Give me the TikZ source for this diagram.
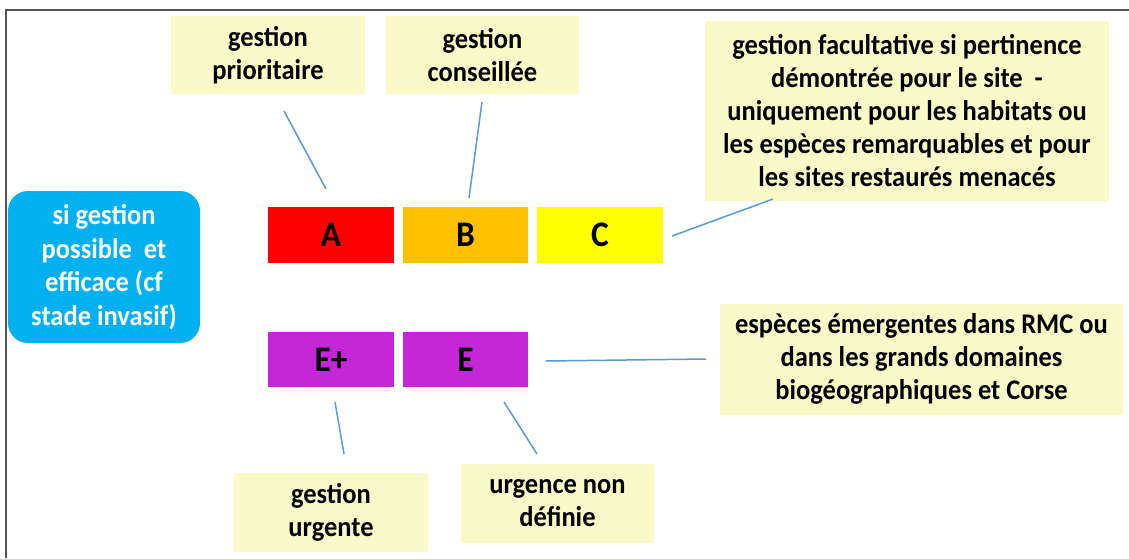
\documentclass[tikz,border=0pt]{standalone}
\usepackage{fontspec}
\setmainfont{Carlito}[FakeStretch=0.93]
\definecolor{paleY}{HTML}{FAFAC8}
\definecolor{redA}{HTML}{FF0000}
\definecolor{orB}{HTML}{FFC000}
\definecolor{yeC}{HTML}{FFFF00}
\definecolor{purE}{HTML}{C427D8}
\definecolor{cyanBox}{HTML}{00B0F0}
\definecolor{linkBlue}{HTML}{5B9BD5}
\definecolor{frameGray}{HTML}{555555}
\begin{document}
\begin{tikzpicture}[x=1pt,y=-1pt,
  note/.style={fill=paleY, draw=none, inner sep=0pt, align=center,
    font=\fontsize{28.5}{33}\selectfont\bfseries, text=black},
  grade/.style={draw=none, inner sep=0pt, minimum width=126pt, minimum height=56pt,
    font=\fontsize{36}{40}\selectfont\bfseries, text=black},
  link/.style={draw=linkBlue, line width=1.5pt}
]
\useasboundingbox (0,0) rectangle (1129,558);
% frame
\draw[frameGray, line width=2pt] (6,558) -- (6,10) -- (1129,10);

% top notes
\node[note, minimum width=194pt, minimum height=78pt] (prio) at (268,55) {gestion\\prioritaire};
\node[note, minimum width=193pt, minimum height=78pt] (cons) at (482.5,55) {gestion\\conseillée};
\node[note, minimum width=404pt, minimum height=180pt] (fac) at (907,111)
  {gestion facultative si pertinence\\démontrée pour le site\ \ -\\uniquement pour les habitats ou\\les espèces remarquables et pour\\les sites restaurés menacés};

% left box
\node[fill=cyanBox, rounded corners=20pt, minimum width=192pt, minimum height=152pt,
  inner sep=0pt, align=center, text=white, font=\fontsize{28.5}{33.5}\selectfont\bfseries] (cond) at (104,267)
  {si gestion\\possible\ \ et\\efficace (cf\\stade invasif)};

% grades
\node[grade, fill=redA] (A) at (331,235) {A};
\node[grade, fill=orB, minimum width=125pt] (B) at (465.5,235) {B};
\node[grade, fill=yeC] (C) at (600,235) {C};
\node[grade, fill=purE, minimum height=55pt] (Ep) at (331,359.5) {E+};
\node[grade, fill=purE, minimum width=125pt, minimum height=55pt] (E) at (465.5,359.5) {E};

% bottom / right notes
\node[note, minimum width=403pt, minimum height=111pt] (esp) at (921.5,359)
  {espèces émergentes dans RMC ou\\dans les grands domaines\\biogéographiques et Corse};
\node[note, minimum width=194pt, minimum height=79pt] (urg) at (331,512.5) {gestion\\urgente};
\node[note, minimum width=193pt, minimum height=79pt] (nondef) at (557.5,503) {urgence non\\définie};

% connector end points
\coordinate (prioEnd) at (284,111);
\coordinate (AEnd) at (326,189);
\coordinate (consEnd) at (482,102);
\coordinate (BEnd) at (469,198);
\coordinate (CEnd) at (672,236);
\coordinate (facEnd) at (773,199);
\coordinate (EEnd) at (546,361);
\coordinate (espEnd) at (706,359);
\coordinate (EpEnd) at (335,402);
\coordinate (urgEnd) at (344,454);
\coordinate (EdEnd) at (504,402);
\coordinate (nondefEnd) at (537,454);

\draw[link] (prioEnd) -- (AEnd);
\draw[link] (consEnd) -- (BEnd);
\draw[link] (CEnd) -- (facEnd);
\draw[link] (EEnd) -- (espEnd);
\draw[link] (EpEnd) -- (urgEnd);
\draw[link] (EdEnd) -- (nondefEnd);
\end{tikzpicture}
\end{document}
